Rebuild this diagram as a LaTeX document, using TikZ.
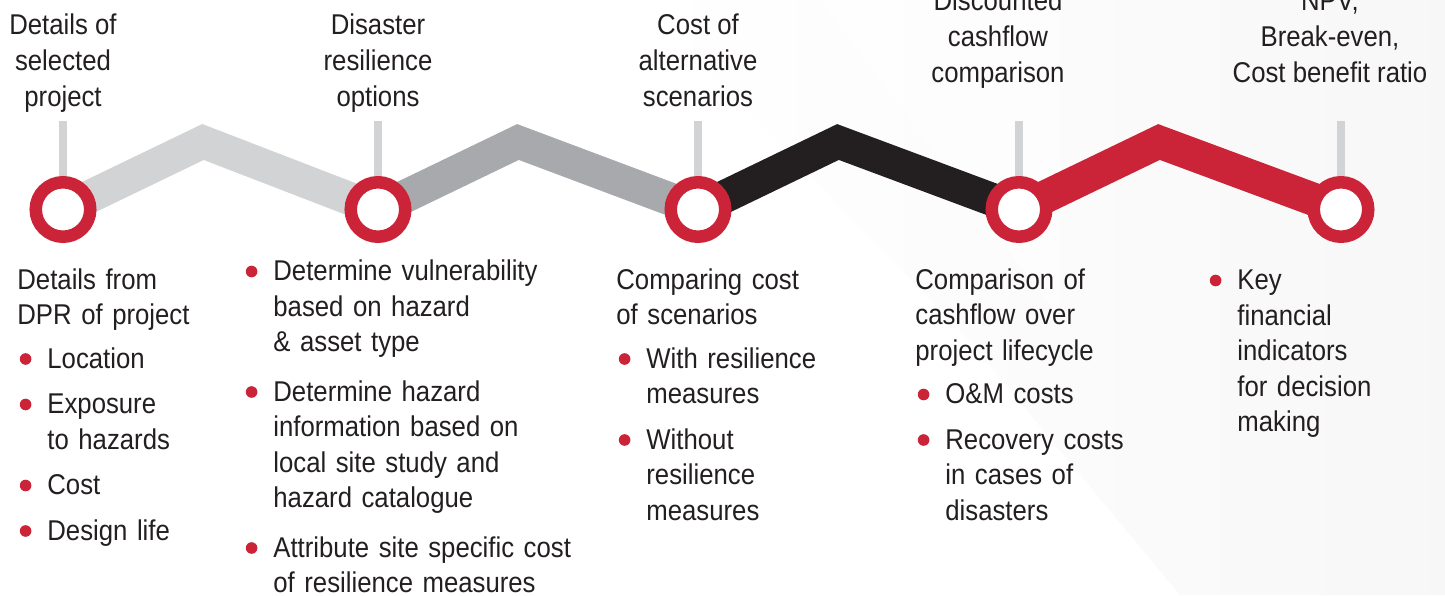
\documentclass[tikz,border=0pt]{standalone}
\usepackage{fontspec}
\setmainfont{Liberation Sans}[FakeStretch=0.9]
\usepackage{enumitem}
\usetikzlibrary{positioning,backgrounds}

\definecolor{ringred}{HTML}{CB2337}
\definecolor{lightline}{HTML}{D1D3D4}
\definecolor{midline}{HTML}{A7A9AC}
\definecolor{darkline}{HTML}{231F20}
\definecolor{textdark}{HTML}{231F20}

\newcommand\redbullet{\tikz[baseline=-4.5pt]\fill[ringred] (0,0) circle (2.9pt);}
\setlist[itemize]{label=\redbullet,leftmargin=15pt,labelwidth=5.8pt,labelsep=8pt,align=left,
  topsep=4pt,partopsep=0pt,itemsep=5pt,parsep=0pt}

\begin{document}
\begin{tikzpicture}[x=0.5pt,y=-0.5pt,
    every node/.style={text=textdark},
    ring/.style={circle,draw=ringred,line width=6.25pt,fill=white,minimum size=27.25pt,inner sep=0pt},
    stem/.style={draw=lightline,line width=4pt},
    zig/.style={line width=16.5pt},
    headline/.style={font=\fontsize{14.3pt}{18pt}\selectfont,align=center,inner sep=0pt,
      execute at end node=\strut},
    body/.style={font=\fontsize{14.3pt}{17.75pt}\selectfont,anchor=base west,inner sep=0pt,align=left}]
  \useasboundingbox (0,0) rectangle (1445,595);

  % steps
  \node[ring] (s1) at (63,209.5) {};
  \node[ring] (s2) at (378,209.5) {};
  \node[ring] (s3) at (698,209.5) {};
  \node[ring] (s4) at (1019,209.5) {};
  \node[ring] (s5) at (1341,209.5) {};
  \coordinate (p1) at (203,142);
  \coordinate (p2) at (518,142);
  \coordinate (p3) at (838,142);
  \coordinate (p4) at (1159,142);

  \begin{scope}[on background layer]
    \fill[white] (0,0) rectangle (1445,595);
    \shade[left color=white,right color=black!3] (640,0) -- (1445,0) -- (1445,595) -- (1180,595) -- (960,330) -- cycle;
    \fill[white,opacity=.5] (820,0) -- (1060,0) -- (1060,320) -- cycle;
    \foreach \i in {1,...,5}
      \draw[stem] (s\i.center) -- ++(0,-88.5);
    \foreach \a/\b/\col in {1/2/lightline,2/3/midline,3/4/darkline,4/5/ringred}
      \draw[zig,\col] (s\a.center) -- (p\a) -- (s\b.center);
  \end{scope}

  % titles
  \node[headline,above=29.35pt of s1] (h1) {Details of\\selected\\project};
  \node[headline,above=29.35pt of s2] (h2) {Disaster\\resilience\\options};
  \node[headline,above=29.35pt of s3] (h3) {Cost of\\alternative\\scenarios};
  \node[headline,above=41.1pt of s4,xshift=-10.5pt] (h4) {Discounted\\cashflow\\comparison};
  \node[headline,above=41.1pt of s5,xshift=-5.5pt] (h5) {NPV,\\Break-even,\\Cost benefit ratio};

  % details
  \node[body,text width=110pt] (d1) at (17,289) {Details from\\DPR of project
    \begin{itemize}
      \item Location
      \item Exposure\\to hazards
      \item Cost
      \item Design life
    \end{itemize}};
  \node[body,text width=180pt] (d2) at (243,237) {%
    \begin{itemize}[itemsep=7pt]
      \item Determine vulnerability\\based on hazard\\\& asset type
      \item Determine hazard\\information based on\\local site study and\\hazard catalogue
      \item Attribute site specific cost\\of resilience measures
    \end{itemize}};
  \node[body,text width=115pt] (d3) at (616,289) {Comparing cost\\of scenarios
    \begin{itemize}
      \item With resilience\\measures
      \item Without\\resilience\\measures
    \end{itemize}};
  \node[body,text width=120pt] (d4) at (915,289) {Comparison of\\cashflow over\\project lifecycle
    \begin{itemize}
      \item O\&M costs
      \item Recovery costs\\in cases of\\disasters
    \end{itemize}};
  \node[body,text width=100pt] (d5) at (1207,246) {%
    \begin{itemize}
      \item Key\\financial\\indicators\\for decision\\making
    \end{itemize}};
\end{tikzpicture}
\end{document}
